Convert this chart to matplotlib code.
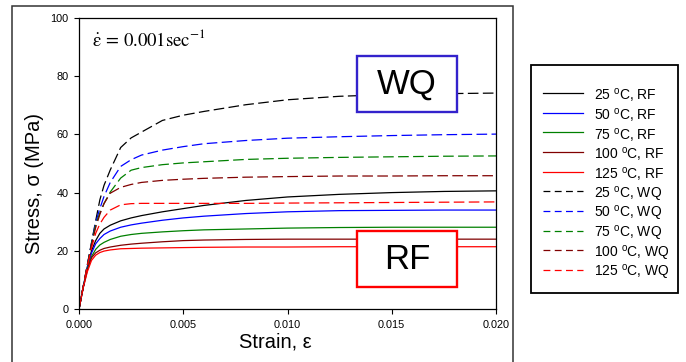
import matplotlib
matplotlib.use("Agg")
import matplotlib.pyplot as plt
from matplotlib.patches import Rectangle
from matplotlib.lines import Line2D

plt.rcParams["font.family"] = ["Liberation Sans", "DejaVu Sans"]
plt.rcParams["mathtext.fontset"] = "custom"
plt.rcParams["mathtext.rm"] = "Liberation Sans"
plt.rcParams["mathtext.it"] = "Liberation Sans:italic"

# ---- data -------------------------------------------------------------
strain = [0, 0.0002, 0.0004, 0.0006, 0.0008, 0.001, 0.0012, 0.0015, 0.002,
          0.0025, 0.003, 0.004, 0.005, 0.006, 0.008, 0.010, 0.0125, 0.015,
          0.0175, 0.020]

# furnace-cooled (RF) specimens
rf_25 = [0, 7.5, 14.5, 20.0, 23.5, 26.0, 27.5, 28.8, 30.3, 31.3, 32.1, 33.4,
         34.5, 35.6, 37.3, 38.5, 39.4, 40.0, 40.4, 40.6]
rf_50 = [0, 7.5, 14.3, 19.2, 22.4, 24.2, 25.6, 26.8, 28.1, 28.9, 29.5, 30.5,
         31.3, 31.9, 32.8, 33.4, 33.8, 33.9, 34.0, 34.0]
rf_75 = [0, 7.4, 13.8, 18.0, 20.5, 22.0, 22.9, 23.9, 25.0, 25.6, 26.0, 26.5,
         26.9, 27.2, 27.5, 27.8, 28.0, 28.1, 28.1, 28.1]
rf_100 = [0, 7.3, 13.3, 17.6, 19.3, 20.2, 20.8, 21.3, 21.9, 22.3, 22.6, 23.1,
          23.5, 23.7, 23.9, 24.0, 24.0, 24.0, 24.0, 24.0]
rf_125 = [0, 7.2, 12.8, 16.7, 18.5, 19.4, 19.9, 20.3, 20.7, 20.8, 20.9, 21.0,
          21.1, 21.2, 21.3, 21.3, 21.4, 21.4, 21.4, 21.4]

# water-quenched (WQ) specimens
wq_25 = [0, 7.6, 15.2, 22.8, 30.3, 37.5, 42.5, 47.8, 55.5, 58.8, 60.8, 64.8,
         66.6, 67.9, 70.2, 71.9, 73.1, 73.7, 74.0, 74.2]
wq_50 = [0, 7.6, 15.1, 22.6, 29.8, 34.5, 38.7, 43.5, 49.0, 51.3, 52.9, 54.6,
         55.8, 56.8, 57.9, 58.7, 59.2, 59.6, 59.9, 60.1]
wq_75 = [0, 7.6, 15.0, 22.4, 29.0, 33.0, 36.3, 40.2, 45.0, 47.7, 48.6, 49.6,
         50.2, 50.6, 51.4, 51.8, 52.1, 52.3, 52.5, 52.6]
wq_100 = [0, 7.5, 14.9, 22.0, 28.0, 32.5, 36.2, 39.8, 41.8, 42.8, 43.5, 44.2,
          44.6, 44.9, 45.3, 45.5, 45.7, 45.7, 45.8, 45.8]
wq_125 = [0, 7.5, 14.8, 21.0, 26.0, 29.2, 31.5, 34.0, 35.8, 36.2, 36.3, 36.3,
          36.3, 36.3, 36.3, 36.4, 36.5, 36.6, 36.7, 36.8]

temps = ["25", "50", "75", "100", "125"]
colors = ["#000000", "#0000ff", "#008000", "#800000", "#ff0000"]
rf_series = [rf_25, rf_50, rf_75, rf_100, rf_125]
wq_series = [wq_25, wq_50, wq_75, wq_100, wq_125]

x_ticks = [0.000, 0.005, 0.010, 0.015, 0.020]
y_ticks = [0, 20, 40, 60, 80, 100]

# ---- figure -----------------------------------------------------------
W, H = 686, 362
fig = plt.figure(figsize=(W / 100, H / 100), dpi=100)
fig.patch.set_facecolor("white")

def fx(px):
    return px / W

def fy(py):
    return 1 - py / H

ax = fig.add_axes([fx(79), fy(309), fx(496) - fx(79), fy(18) - fy(309)])

lw = 0.9
for s, c in zip(rf_series, colors):
    ax.plot(strain, s, color=c, lw=lw, solid_joinstyle="round")
for s, c in zip(wq_series, colors):
    ax.plot(strain, s, color=c, lw=lw, dashes=(8.5, 3.5))

ax.set_xlim(0, 0.020)
ax.set_ylim(0, 100)
ax.set_xticks(x_ticks)
ax.set_xticklabels([f"{v:.3f}" for v in x_ticks])
ax.set_yticks(y_ticks)
ax.set_yticklabels([str(v) for v in y_ticks])
ax.tick_params(axis="both", direction="out", length=3.4, width=0.8,
               labelsize=7.8, top=False, right=False)
ax.tick_params(axis="x", pad=4.5)
ax.tick_params(axis="y", pad=4)
for sp in ax.spines.values():
    sp.set_linewidth(0.9)

# strain-rate annotation
ax.text(0.031, 0.905, r"$\dot{\mathrm{ε}}\,=\,0.001\mathrm{sec}^{\mathrm{-1}}$",
        transform=ax.transAxes, fontsize=13.5, math_fontfamily="stix",
        ha="left", va="baseline")

# group boxes
for label, edge, y0, y1 in [("WQ", "#3322cc", 0.677, 0.869),
                            ("RF", "#ff0000", 0.0756, 0.268)]:
    x0, x1 = 0.6667, 0.9065
    ax.add_patch(Rectangle((x0, y0), x1 - x0, y1 - y0, transform=ax.transAxes,
                           facecolor="white", edgecolor=edge, lw=1.7,
                           zorder=5))
    ax.text((x0 + x1) / 2, (y0 + y1) / 2, label, transform=ax.transAxes,
            fontsize=25, ha="center", va="center", zorder=6)

# axis titles
fig.text(fx(275), fy(347), "Strain, ε", fontsize=14.5, ha="center",
         va="baseline")
fig.text(fx(34), fy(183), "Stress, σ (MPa)", fontsize=14.5, rotation=90,
         ha="center", va="center")

# outer frame around the plot
fig.add_artist(Rectangle((fx(12), fy(380)), fx(513) - fx(12), fy(6) - fy(380),
                         transform=fig.transFigure, facecolor="none",
                         edgecolor="#333333", lw=1.1, clip_on=False))

# legend box
fig.add_artist(Rectangle((fx(531), fy(293)), fx(678) - fx(531),
                         fy(65) - fy(293), transform=fig.transFigure,
                         facecolor="white", edgecolor="black", lw=1.3))
entries = [(t + r" $^{\mathrm{o}}$C, RF", c, None) for t, c in zip(temps, colors)]
entries += [(t + r" $^{\mathrm{o}}$C, WQ", c, (5.5, 3.5)) for t, c in zip(temps, colors)]
for i, (lab, c, dash) in enumerate(entries):
    yy = fy(93 + i * 19.67)
    kw = {"dashes": dash} if dash else {}
    fig.add_artist(Line2D([fx(543), fx(583)], [yy, yy], color=c, lw=lw,
                          transform=fig.transFigure, **kw))
    fig.text(fx(594), yy, lab, fontsize=10, ha="left", va="center_baseline")

fig.savefig("out.png", dpi=100)
